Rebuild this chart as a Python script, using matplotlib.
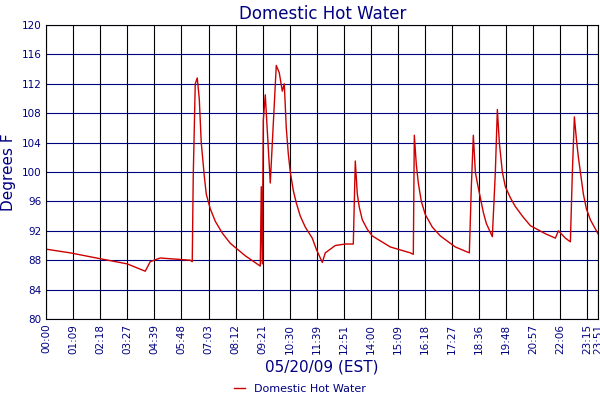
import matplotlib
matplotlib.use("Agg")
import matplotlib.pyplot as plt

tick_labels = ["00:00","01:09","02:18","03:27","04:39","05:48","07:03","08:12","09:21","10:30",
               "11:39","12:51","14:00","15:09","16:18","17:27","18:36","19:48","20:57","22:06","23:15","23:51"]
tick_pos = list(range(21)) + [20.4]

# x in pixel-derived positions (tick index units), y in degrees F
px = [46,70,100,127,145,150,160,190,192,193,195,197,199,201,204,206,210,215,222,230,245,260,261,262,263,265,
      270,276,279,282,284,286,288,290,293,296,300,305,312,316,322,325,335,345,353,355,357,359,362,367,372,390,410,413,
      414,416,418,421,425,432,440,455,469,471,473,475,477,480,483,486,492,495,497,499,502,505,510,515,522,530,545,555,558,565,570,
      572,574,576,578,581,583,586,590,598]
temps = [89.5,89,88.2,87.5,86.5,87.8,88.3,88,87.8,99.5,112,112.8,110,104,99.5,97,95,93.3,91.7,90.3,88.6,87.2,98,87.5,107,110.5,
         98.5,114.5,113.5,111,112,106,102.5,100,97.5,95.8,94,92.5,91,89.5,87.7,89,90,90.2,90.2,101.5,97,95.2,93.5,92.2,91.3,89.8,89,88.8,
         105,101,98.5,96,94.2,92.5,91.3,89.8,89,98,105,100,98.5,96.5,94.5,93,91.2,100,108.5,104,100,98,96.5,95.3,94,92.7,91.6,91,92,91,90.5,
         100,107.5,104.5,102,99,97,95,93.5,91.5]
xs = [(p - 46) / 27.05 for p in px]

navy = "#000080"
fig = plt.figure(figsize=(6, 4), dpi=100)
ax = fig.add_axes([0.077, 0.2025, 0.92, 0.735])
ax.plot(xs, temps, color="#cc0000", lw=1, label="Domestic Hot Water")
ax.set_xlim(0, 20.4)
ax.set_ylim(80, 120)
ax.set_yticks(range(80, 121, 4))
ax.set_xticks(tick_pos)
ax.set_xticklabels(tick_labels, rotation=90, fontsize=7.5, color=navy)
ax.tick_params(axis="y", labelsize=7.5, labelcolor=navy)
ax.tick_params(length=0)
for x in tick_pos:
    ax.axvline(x, color="black", lw=0.8, zorder=0)
for y in range(80, 121, 4):
    ax.axhline(y, color=navy, lw=0.8, zorder=0)
for s in ax.spines.values():
    s.set_color("black")
ax.set_title("Domestic Hot Water", color=navy, fontsize=12, pad=4)
ax.set_ylabel("Degrees F", color=navy, fontsize=11)
ax.set_xlabel("05/20/09 (EST)", color=navy, fontsize=11, labelpad=4)
fig.legend(loc="lower center", bbox_to_anchor=(0.5, -0.01), frameon=False, fontsize=8,
           labelcolor=navy, handlelength=1)
fig.savefig("out.png", dpi=100)
